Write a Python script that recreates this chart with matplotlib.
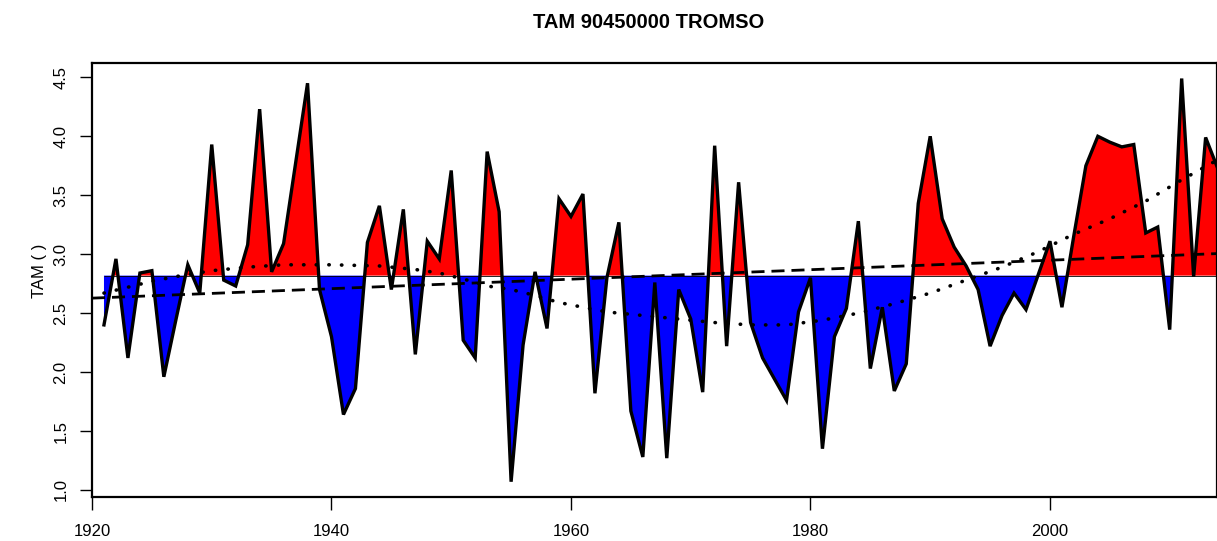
import numpy as np
import matplotlib
matplotlib.use("Agg")
import matplotlib.pyplot as plt

plt.rcParams['font.family'] = ['Liberation Sans', 'DejaVu Sans']

# annual values
years = list(range(1921, 2015))
tam = [2.40, 2.96, 2.12, 2.84, 2.86, 1.96, 2.44, 2.91, 2.67, 3.93,
       2.78, 2.73, 3.08, 4.23, 2.85, 3.09, 3.77, 4.45, 2.70, 2.30,
       1.64, 1.86, 3.10, 3.41, 2.70, 3.38, 2.15, 3.11, 2.96, 3.71,
       2.27, 2.12, 3.87, 3.36, 1.07, 2.23, 2.85, 2.37, 3.47, 3.32,
       3.51, 1.82, 2.80, 3.27, 1.67, 1.28, 2.76, 1.27, 2.70, 2.45,
       1.83, 3.92, 2.22, 3.61, 2.42, 2.12, 1.94, 1.76, 2.51, 2.80,
       1.35, 2.30, 2.54, 3.28, 2.03, 2.55, 1.84, 2.07, 3.43, 4.00,
       3.30, 3.06, 2.90, 2.70, 2.22, 2.48, 2.67, 2.53, 2.82, 3.11,
       2.55, 3.16, 3.75, 4.00, 3.95, 3.91, 3.93, 3.18, 3.23, 2.36,
       4.49, 2.81, 3.99, 3.73]

# smoothed curve (dotted)
smooth_years = [1921, 1923, 1925, 1927, 1930, 1933, 1936, 1940, 1944, 1947,
                1949, 1951, 1953, 1955, 1957, 1959, 1961, 1963, 1966, 1969,
                1972, 1975, 1978, 1981, 1984, 1987, 1990, 1993, 1996, 1999,
                2002, 2005, 2008, 2011, 2014]
smooth_vals = [2.67, 2.72, 2.77, 2.81, 2.86, 2.89, 2.91, 2.91, 2.90, 2.87,
               2.84, 2.79, 2.73, 2.70, 2.65, 2.59, 2.55, 2.51, 2.48, 2.45,
               2.42, 2.40, 2.40, 2.44, 2.50, 2.58, 2.67, 2.78, 2.89, 3.02,
               3.17, 3.30, 3.45, 3.63, 3.80]

x = np.array(years, dtype=float)
y = np.array(tam)
base = y.mean()
slope, icpt = np.polyfit(x, y, 1)

fig = plt.figure(figsize=(12.17, 5.41), dpi=100)
ax = fig.add_axes([92 / 1217, 1 - 496.7 / 541, 1 - 92 / 1217, (496.7 - 62.7) / 541])

ax.fill_between(x, y, base, where=y >= base, interpolate=True, color='#ff0000', lw=0)
ax.fill_between(x, y, base, where=y <= base, interpolate=True, color='#0000ff', lw=0)
ax.hlines(base, x[0], x[-1], color='black', lw=0.6)
ax.plot(x, y, color='black', lw=2.4, solid_joinstyle='miter')

tx = np.array([1920, 2014])
ax.plot(tx, icpt + slope * tx, color='black', lw=2.0, linestyle=(0, (4.7, 2.5)))
ax.plot(smooth_years, smooth_vals, color='black', lw=2.6,
        linestyle=(0, (0.1, 3.4)), dash_capstyle='round')

ax.set_xlim(1920, 2013.95)
ax.set_ylim(0.943, 4.624)
ax.set_xticks([1920, 1940, 1960, 1980, 2000])
ax.set_yticks(np.arange(1.0, 4.51, 0.5))
ax.set_yticklabels(['%.1f' % v for v in np.arange(1.0, 4.51, 0.5)],
                   rotation=90, va='center')
ax.tick_params(axis='both', labelsize=12, length=9, width=1.0)
ax.tick_params(axis='x', pad=11)
ax.tick_params(axis='y', pad=8)
for sp in ax.spines.values():
    sp.set_linewidth(1.6)

ax.set_ylabel('TAM ( )', fontsize=12)
ax.yaxis.set_label_coords(-0.040, 0.52)

fig.text(649 / 1217, 1 - 27.7 / 541, 'TAM 90450000 TROMSO', ha='center',
         va='baseline', fontsize=14.5, fontweight='bold')

fig.savefig('out.png', dpi=100)
